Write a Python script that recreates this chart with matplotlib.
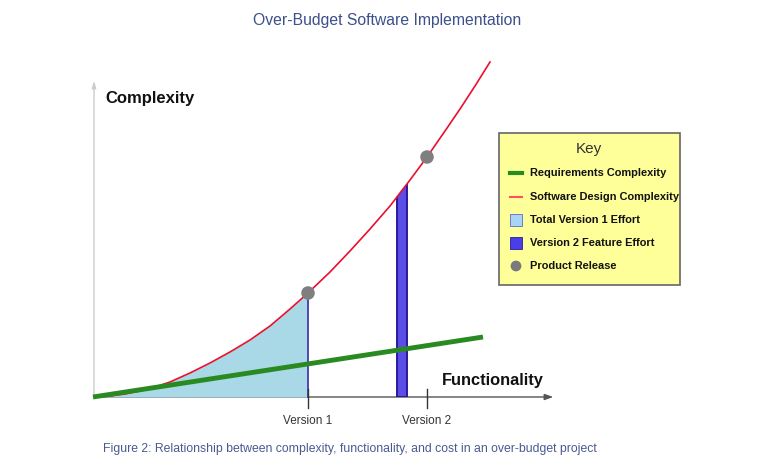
import matplotlib
matplotlib.use("Agg")
import matplotlib.pyplot as plt
from matplotlib.patches import Rectangle, Polygon
import numpy as np

plt.rcParams['font.family'] = ['Liberation Sans', 'DejaVu Sans']

# ---- data (arbitrary units: functionality vs complexity) ----
design_x = [0, 15, 30, 45, 60, 75, 95, 115, 135, 155, 175, 195, 213,
            235, 255, 275, 295, 315, 332, 350, 365, 380, 395]
design_y = [0, 1, 3, 6, 10, 15, 24, 34, 45, 57, 71, 88, 104,
            125, 146, 168, 191, 217, 240, 266, 288, 311, 335]
req_x = [-2, 388]
req_y = [0, 60]
version1_x = 213
version2_x = 332
release_x = [213, 332]
release_y = [104, 240]
v2_bar_left = 302
v2_bar_right = 312
tick_labels = ["Version 1", "Version 2"]
legend_labels = ["Requirements Complexity", "Software Design Complexity",
                 "Total Version 1 Effort", "Version 2 Feature Effort",
                 "Product Release"]

W, H = 758, 473
ox, oy = 95, 397  # origin in pixels
fig = plt.figure(figsize=(W / 100, H / 100), dpi=100)
ax = fig.add_axes([0, 0, 1, 1])
ax.set_xlim(-ox, W - ox)
ax.set_ylim(oy - H, oy)
ax.axis('off')

def py(p):  # pixel-from-top -> data y
    return oy - p
def px(p):
    return p - ox

# axes
ax.annotate('', xy=(px(556), 0), xytext=(px(94), 0),
            arrowprops=dict(arrowstyle='-|>,head_length=0.5,head_width=0.18',
                            color='#555555', lw=1.0), zorder=2)
ax.annotate('', xy=(px(94), py(78)), xytext=(px(94), 0),
            arrowprops=dict(arrowstyle='-|>,head_length=0.4,head_width=0.12',
                            color='#cccccc', lw=1.0), zorder=1)

dx = np.array(design_x, float)
dy = np.array(design_y, float)

# fill under design curve up to version 1
mask = dx <= version1_x
ax.fill_between(dx[mask], 0, dy[mask], color='#a9d8e6', lw=0, zorder=2)
ax.plot([version1_x, version1_x], [0, release_y[0]], color='#3a2fb0', lw=1.2, zorder=3)

# version 2 feature bar, clipped by the design curve
under = Polygon(list(zip(design_x, design_y)) + [(design_x[-1], 0), (design_x[0], 0)],
                closed=True)
under.set_transform(ax.transData)
bar = Rectangle((v2_bar_left, 0), v2_bar_right - v2_bar_left, max(design_y),
                facecolor='#5a4ee6', edgecolor='#2a1a9a', lw=1.4, zorder=3)
ax.add_patch(bar)
bar.set_clip_path(under)

# curves
ax.plot(dx, dy, color='#e8102e', lw=1.2, zorder=4, solid_joinstyle='round')
ax.plot(req_x, req_y, color='#2a8a22', lw=3.5, solid_capstyle='butt', zorder=5)
ax.scatter(release_x, release_y, s=95, color='#7f7f7f', zorder=6, edgecolors='none')

# ticks
for xv, lab in zip([version1_x, version2_x], tick_labels):
    ax.plot([xv, xv], [py(408), py(389)], color='#333333', lw=1.0, zorder=4)
    ax.text(xv, py(421), lab, ha='center', va='center', fontsize=8.5, color='#333333')

ax.text(px(442), py(380), 'Functionality', ha='left', va='center', fontsize=11.8,
        fontweight='bold', color='#111111')
ax.text(px(105), py(99), 'Complexity', ha='left', va='center', fontsize=12,
        fontweight='bold', color='#111111')

# key box
ax.add_patch(Rectangle((px(499), py(285)), 181, 152, facecolor='#ffff99',
                       edgecolor='#666666', lw=1.2, zorder=5))
ax.text(px(589), py(149), 'Key', ha='center', va='center', fontsize=11,
        color='#333333', zorder=6)
rows = [173, 197, 220, 243, 266]
for i, (r, lab) in enumerate(zip(rows, legend_labels)):
    y = py(r)
    if i == 0:
        ax.plot([px(510), px(522)], [y, y], color='#2a8a22', lw=3, zorder=6)
    elif i == 1:
        ax.plot([px(510), px(522)], [y, y], color='#ff5060', lw=1.5, zorder=6)
    elif i == 2:
        ax.add_patch(Rectangle((px(510), y - 6), 12, 12, facecolor='#aad4f4',
                               edgecolor='#5a6ad0', lw=0.6, zorder=6))
    elif i == 3:
        ax.add_patch(Rectangle((px(510), y - 6), 12, 12, facecolor='#4a3ee8',
                               edgecolor='#2a1a9a', lw=0.6, zorder=6))
    else:
        ax.scatter([px(516)], [y], s=60, color='#7a7a7a', zorder=6, edgecolors='none')
    ax.text(px(530), y, lab, ha='left', va='center', fontsize=7.9,
            fontweight='bold', color='#111111', zorder=6)

# titles
fig.text(387 / W, 1 - 20 / H, 'Over-Budget Software Implementation', ha='center',
         va='center', fontsize=11.3, color='#3d4f8c')
fig.text(350 / W, 1 - 449 / H,
         'Figure 2: Relationship between complexity, functionality, and cost in an over-budget project',
         ha='center', va='center', fontsize=8.85, color='#4a5a90')

fig.savefig('out.png', dpi=100)
